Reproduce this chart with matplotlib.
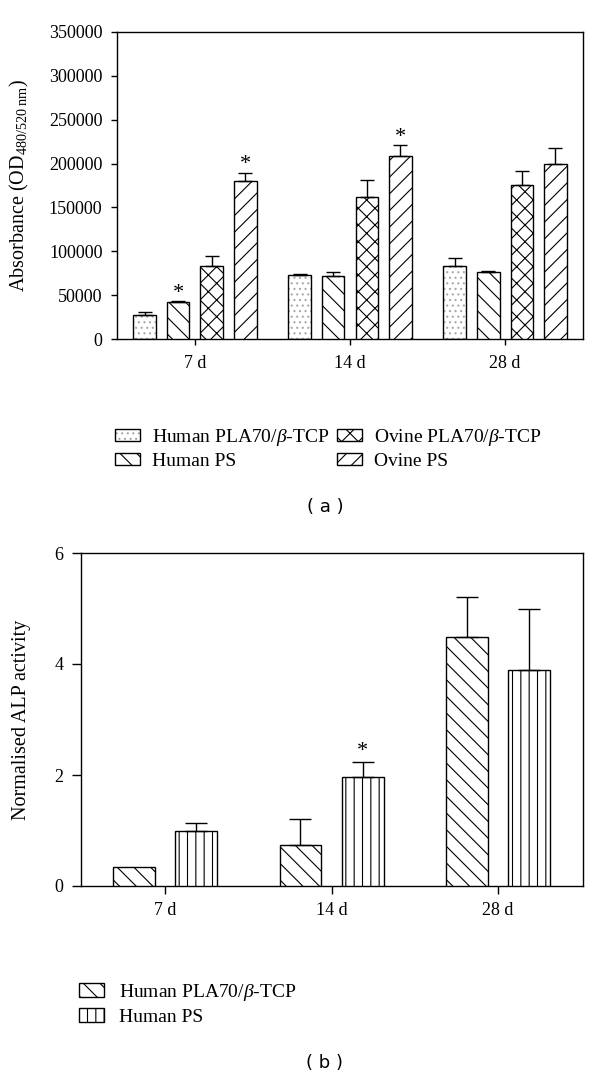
import matplotlib
matplotlib.use("Agg")
import matplotlib.pyplot as plt
import numpy as np
from matplotlib.patches import Rectangle

plt.rcParams['font.family'] = ['Liberation Serif', 'DejaVu Serif']
plt.rcParams['mathtext.fontset'] = 'custom'
plt.rcParams['mathtext.rm'] = 'Liberation Serif'
plt.rcParams['mathtext.it'] = 'Liberation Serif:italic'
plt.rcParams['mathtext.bf'] = 'Liberation Serif:bold'
plt.rcParams['hatch.linewidth'] = 0.8

# ---------------- data (a) ----------------
days = ["7 d", "14 d", "28 d"]
series_a = ["Human PLA70/$\\beta$-TCP", "Human PS", "Ovine PLA70/$\\beta$-TCP", "Ovine PS"]
human_pla_a = [27000, 73100, 83300]
human_pla_a_err = [3300, 1500, 8700]
human_ps_a = [41700, 71600, 76100]
human_ps_a_err = [1100, 4900, 1600]
ovine_pla_a = [83300, 161400, 175800]
ovine_pla_a_err = [11000, 20000, 15900]
ovine_ps_a = [180000, 208300, 200000]
ovine_ps_a_err = [9800, 12500, 17800]
stars_a = [(0, 1), (0, 3), (1, 3)]  # (day index, series index)
yticks_a = [0, 50000, 100000, 150000, 200000, 250000, 300000, 350000]

# ---------------- data (b) ----------------
series_b = ["Human PLA70/$\\beta$-TCP", "Human PS"]
human_pla_b = [0.34, 0.74, 4.49]
human_pla_b_err = [0.0, 0.47, 0.71]
human_ps_b = [0.995, 1.97, 3.9]
human_ps_b_err = [0.145, 0.26, 1.1]
stars_b = [(1, 1)]
yticks_b = [0, 2, 4, 6]

fig = plt.figure(figsize=(6.0, 10.79), dpi=100)
W, H = 600.0, 1079.0
TICK_FS = 13
LAB_FS = 14.5
LEG_FS = 14

def style_axes(ax, ylen, xlen, ypad, xpad):
    for s in ax.spines.values():
        s.set_linewidth(1.0)
        s.set_color('black')
    ax.tick_params(axis='both', direction='out', width=1.0,
                   labelsize=TICK_FS, colors='black', top=False, right=False)
    ax.tick_params(axis='y', length=ylen, pad=ypad)
    ax.tick_params(axis='x', length=xlen, pad=xpad)

# ================= Panel (a) =================
axA = fig.add_axes([117/W, 1-339/H, 466/W, 307/H])
x = np.arange(len(days))
offs = [-0.325, -0.108, 0.108, 0.325]
bw = 0.145
vals = [human_pla_a, human_ps_a, ovine_pla_a, ovine_ps_a]
errs = [human_pla_a_err, human_ps_a_err, ovine_pla_a_err, ovine_ps_a_err]
hatches = [None, '\\\\', 'xx', '//']
handles_a = []
for i, (v, e, h) in enumerate(zip(vals, errs, hatches)):
    xs = x + offs[i]
    if i == 0:
        axA.bar(xs, v, bw, color='white', edgecolor='#a8a8a8', hatch='...',
                linewidth=0, zorder=2)
        axA.bar(xs, v, bw, fill=False, edgecolor='black', linewidth=1.0, zorder=3)
        hd = (Rectangle((0, 0), 1, 1, facecolor='white', edgecolor='#a8a8a8',
                        hatch='...', linewidth=0),
              Rectangle((0, 0), 1, 1, fill=False, edgecolor='black', linewidth=1.0))
    else:
        axA.bar(xs, v, bw, color='white', edgecolor='black', hatch=h,
                linewidth=1.0, zorder=3)
        hd = Rectangle((0, 0), 1, 1, facecolor='white', edgecolor='black',
                       hatch=h, linewidth=1.0)
    handles_a.append(hd)
    axA.errorbar(xs, v, yerr=[np.zeros(len(e)), e], fmt='none', ecolor='black',
                 elinewidth=1.0, capsize=4.7, capthick=1.0, zorder=4)
for (d, s) in stars_a:
    top = vals[s][d] + errs[s][d]
    axA.text(x[d] + offs[s], top + 9000, '*', ha='center', va='center',
             fontsize=16, color='black')
axA.set_xlim(-0.503, 2.503)
axA.set_ylim(0, 350000)
axA.set_yticks(yticks_a)
axA.set_yticklabels([str(t) for t in yticks_a])
axA.set_xticks(x)
axA.set_xticklabels(days)
style_axes(axA, ylen=4.5, xlen=4.0, ypad=6.0, xpad=7.5)
axA.set_ylabel("Absorbance (OD$_{\\mathrm{480/520\\ nm}}$)", fontsize=LAB_FS)
axA.yaxis.set_label_coords((31 - 117) / 466, 0.5)

fig.legend(handles_a, series_a, loc='upper left',
           bbox_to_anchor=(115/W, 1-427/H), ncol=2, frameon=False,
           fontsize=LEG_FS, handlelength=1.3, handleheight=0.55,
           handletextpad=0.6, columnspacing=0.4, labelspacing=0.25,
           borderpad=0, borderaxespad=0)
fig.text(325/W, 1-507/H, "( a )", ha='center', va='center', fontsize=13,
         family='DejaVu Sans')

# ================= Panel (b) =================
axB = fig.add_axes([81/W, 1-886/H, 502/W, 333/H])
offs_b = [-0.187, 0.187]
bw_b = 0.25
vals_b = [human_pla_b, human_ps_b]
errs_b = [human_pla_b_err, human_ps_b_err]
hatches_b = ['\\\\', '||']
handles_b = []
for i, (v, e, h) in enumerate(zip(vals_b, errs_b, hatches_b)):
    xs = x + offs_b[i]
    axB.bar(xs, v, bw_b, color='white', edgecolor='black', hatch=h,
            linewidth=1.0, zorder=3)
    handles_b.append(Rectangle((0, 0), 1, 1, facecolor='white', edgecolor='black',
                               hatch=h, linewidth=1.0))
    mask = np.array(e) > 0
    axB.errorbar(xs[mask], np.array(v)[mask],
                 yerr=[np.zeros(mask.sum()), np.array(e)[mask]], fmt='none',
                 ecolor='black', elinewidth=1.0, capsize=7.6, capthick=1.0, zorder=4)
for (d, s) in stars_b:
    top = vals_b[s][d] + errs_b[s][d]
    axB.text(x[d] + offs_b[s], top + 0.2, '*', ha='center', va='center',
             fontsize=16, color='black')
axB.set_xlim(-0.505, 2.51)
axB.set_ylim(0, 6)
axB.set_yticks(yticks_b)
axB.set_xticks(x)
axB.set_xticklabels(days)
style_axes(axB, ylen=6.5, xlen=6.0, ypad=6.0, xpad=5.5)
axB.set_ylabel("Normalised ALP activity", fontsize=LAB_FS)
axB.yaxis.set_label_coords((31 - 81) / 502, 0.5)

fig.legend(handles_b, series_b, loc='upper left',
           bbox_to_anchor=(79/W, 1-982/H), ncol=1, frameon=False,
           fontsize=LEG_FS, handlelength=1.3, handleheight=0.75,
           handletextpad=0.75, labelspacing=0.25,
           borderpad=0, borderaxespad=0)
fig.text(325/W, 1-1063/H, "( b )", ha='center', va='center', fontsize=13,
         family='DejaVu Sans')

fig.savefig("out.png", dpi=100, facecolor='white')
